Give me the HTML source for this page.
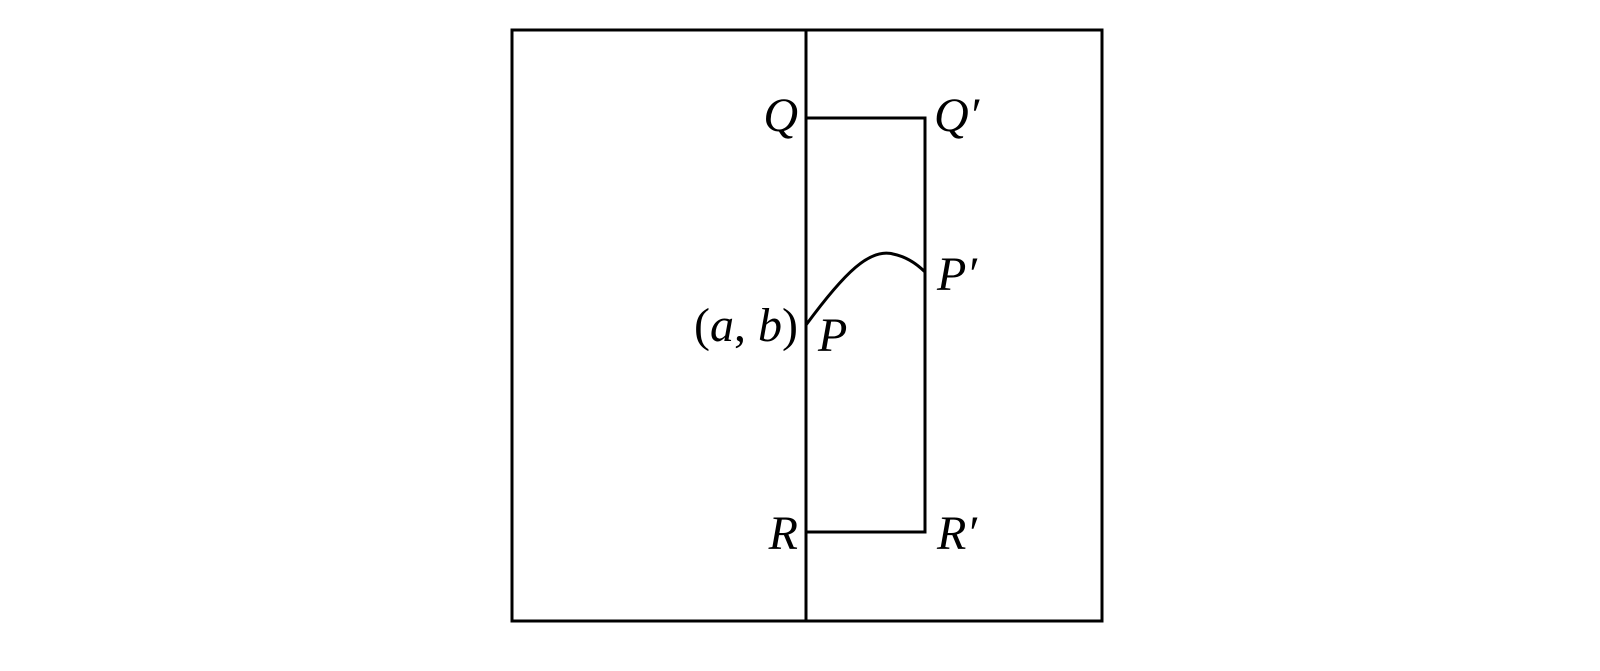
<!DOCTYPE html>
<html><head><meta charset="utf-8"><style>html,body{margin:0;padding:0;background:#fff;}svg{display:block}</style></head>
<body>
<svg width="1600" height="671" viewBox="0 0 1600 671" xmlns="http://www.w3.org/2000/svg">
<g fill="none" stroke="#000" stroke-width="3">
<rect x="512" y="30" width="590" height="591"/>
<line x1="806" y1="30" x2="806" y2="621"/>
<polyline points="806,118 925,118 925,532 806,532"/>
<path d="M806,325 C845,272 870,248 893,254 C908,257 918,265 925,272"/>
</g>
<g font-family="Liberation Serif, serif" font-style="italic" font-size="48" fill="#000">
<text x="798" y="131" text-anchor="end">Q</text>
<text x="934" y="131">Q′</text>
<text x="937" y="290">P′</text>
<text x="818" y="351">P</text>
<text x="798" y="341" text-anchor="end" font-style="normal">(<tspan font-style="italic">a</tspan>, <tspan font-style="italic">b</tspan>)</text>
<text x="798" y="549" text-anchor="end">R</text>
<text x="937" y="549">R′</text>
</g>
</svg>
</body></html>
